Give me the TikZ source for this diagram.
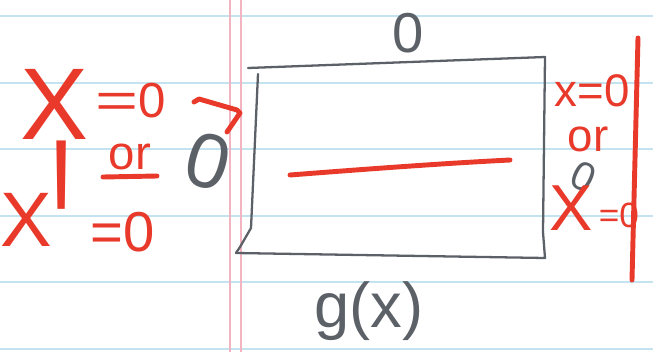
\documentclass[tikz,border=0pt]{standalone}
\usepackage{fontspec}
\setmainfont{Liberation Sans}

\definecolor{pencil}{HTML}{5C6168}
\definecolor{marker}{HTML}{E8392A}
\definecolor{ruling}{HTML}{C2E3EF}
\definecolor{margin}{HTML}{F2B4C0}

\begin{document}
\begin{tikzpicture}[x=0.02cm, y=-0.02cm,
    pencil line/.style={pencil, line width=1.3pt, line cap=round, line join=round},
    marker line/.style={marker, line width=2.8pt, line cap=round, line join=round},
    pencil text/.style={text=pencil, inner sep=0pt, font=\fontsize{#1}{#1}\selectfont},
    marker text/.style={text=marker, inner sep=0pt, font=\fontsize{#1}{#1}\selectfont}]

    \useasboundingbox (0,0) rectangle (653,352);
    \fill [white] (0,0) rectangle (653,352);

    % paper
    \foreach \y in {16,83,149,216,282,349}
        \draw [ruling, line width=0.7pt] (0,\y) -- (653,\y);
    \draw [margin, line width=0.7pt] (230,0) -- (230,352);
    \draw [margin, line width=0.7pt] (241,0) -- (241,352);

    % box corners
    \coordinate (tl) at (248,68);
    \coordinate (tr) at (545,57);
    \coordinate (br) at (545,258);
    \coordinate (bl) at (236,253);

    \draw [pencil line] (tl) -- (tr) -- (543,232) -- (br) -- (bl);
    \draw [pencil line] (258,74) -- (251,228) -- (240,247) -- (bl);

    % boundary values
    \node [pencil text=32] (topzero) at (408,33) {0};
    \node [pencil text=44, rotate=-15] (leftzero) at (208,161) {0};
    \node [pencil text=23, rotate=-25] (rightzero) at (584,177) {0};
    \node [pencil text=36] (gx) at (369,311) {g(x)};

    % left conditions
    \node [marker text=58] (xa) at (54,104) {X};
    \node [marker text=28] (xaval) at (131,101) {\scalebox{1.5}[1]{=}0};
    \node [marker text=27] (orleft) at (130,157) {or};
    \node [marker text=44] (xb) at (26,220) {X};
    \node [marker text=60, anchor=north] (xbprime) at (62,141) {\scalebox{1}[3]{\textquotesingle}};
    \node [marker text=32] (xbval) at (123,232) {=0};

    \draw [marker line] (103,177) -- (157,176);
    \coordinate (tip) at (240,113);
    \draw [marker line] (194,102) -- (199,99) -- (237,110) -- (tip) -- (227,132);

    % right conditions
    \node [marker text=26] (xc) at (592,91) {x=0};
    \node [marker text=26] (orright) at (588,139) {or};
    \node [marker text=37] (xd) at (571,208) {X};
    \node [marker text=20] (xdval) at (619,215) {=0};

    \draw [marker line] (638,38) -- (632,280);

    % inside
    \draw [marker line] (290,175) .. controls (380,168) and (450,163) .. (510,160);

\end{tikzpicture}
\end{document}
